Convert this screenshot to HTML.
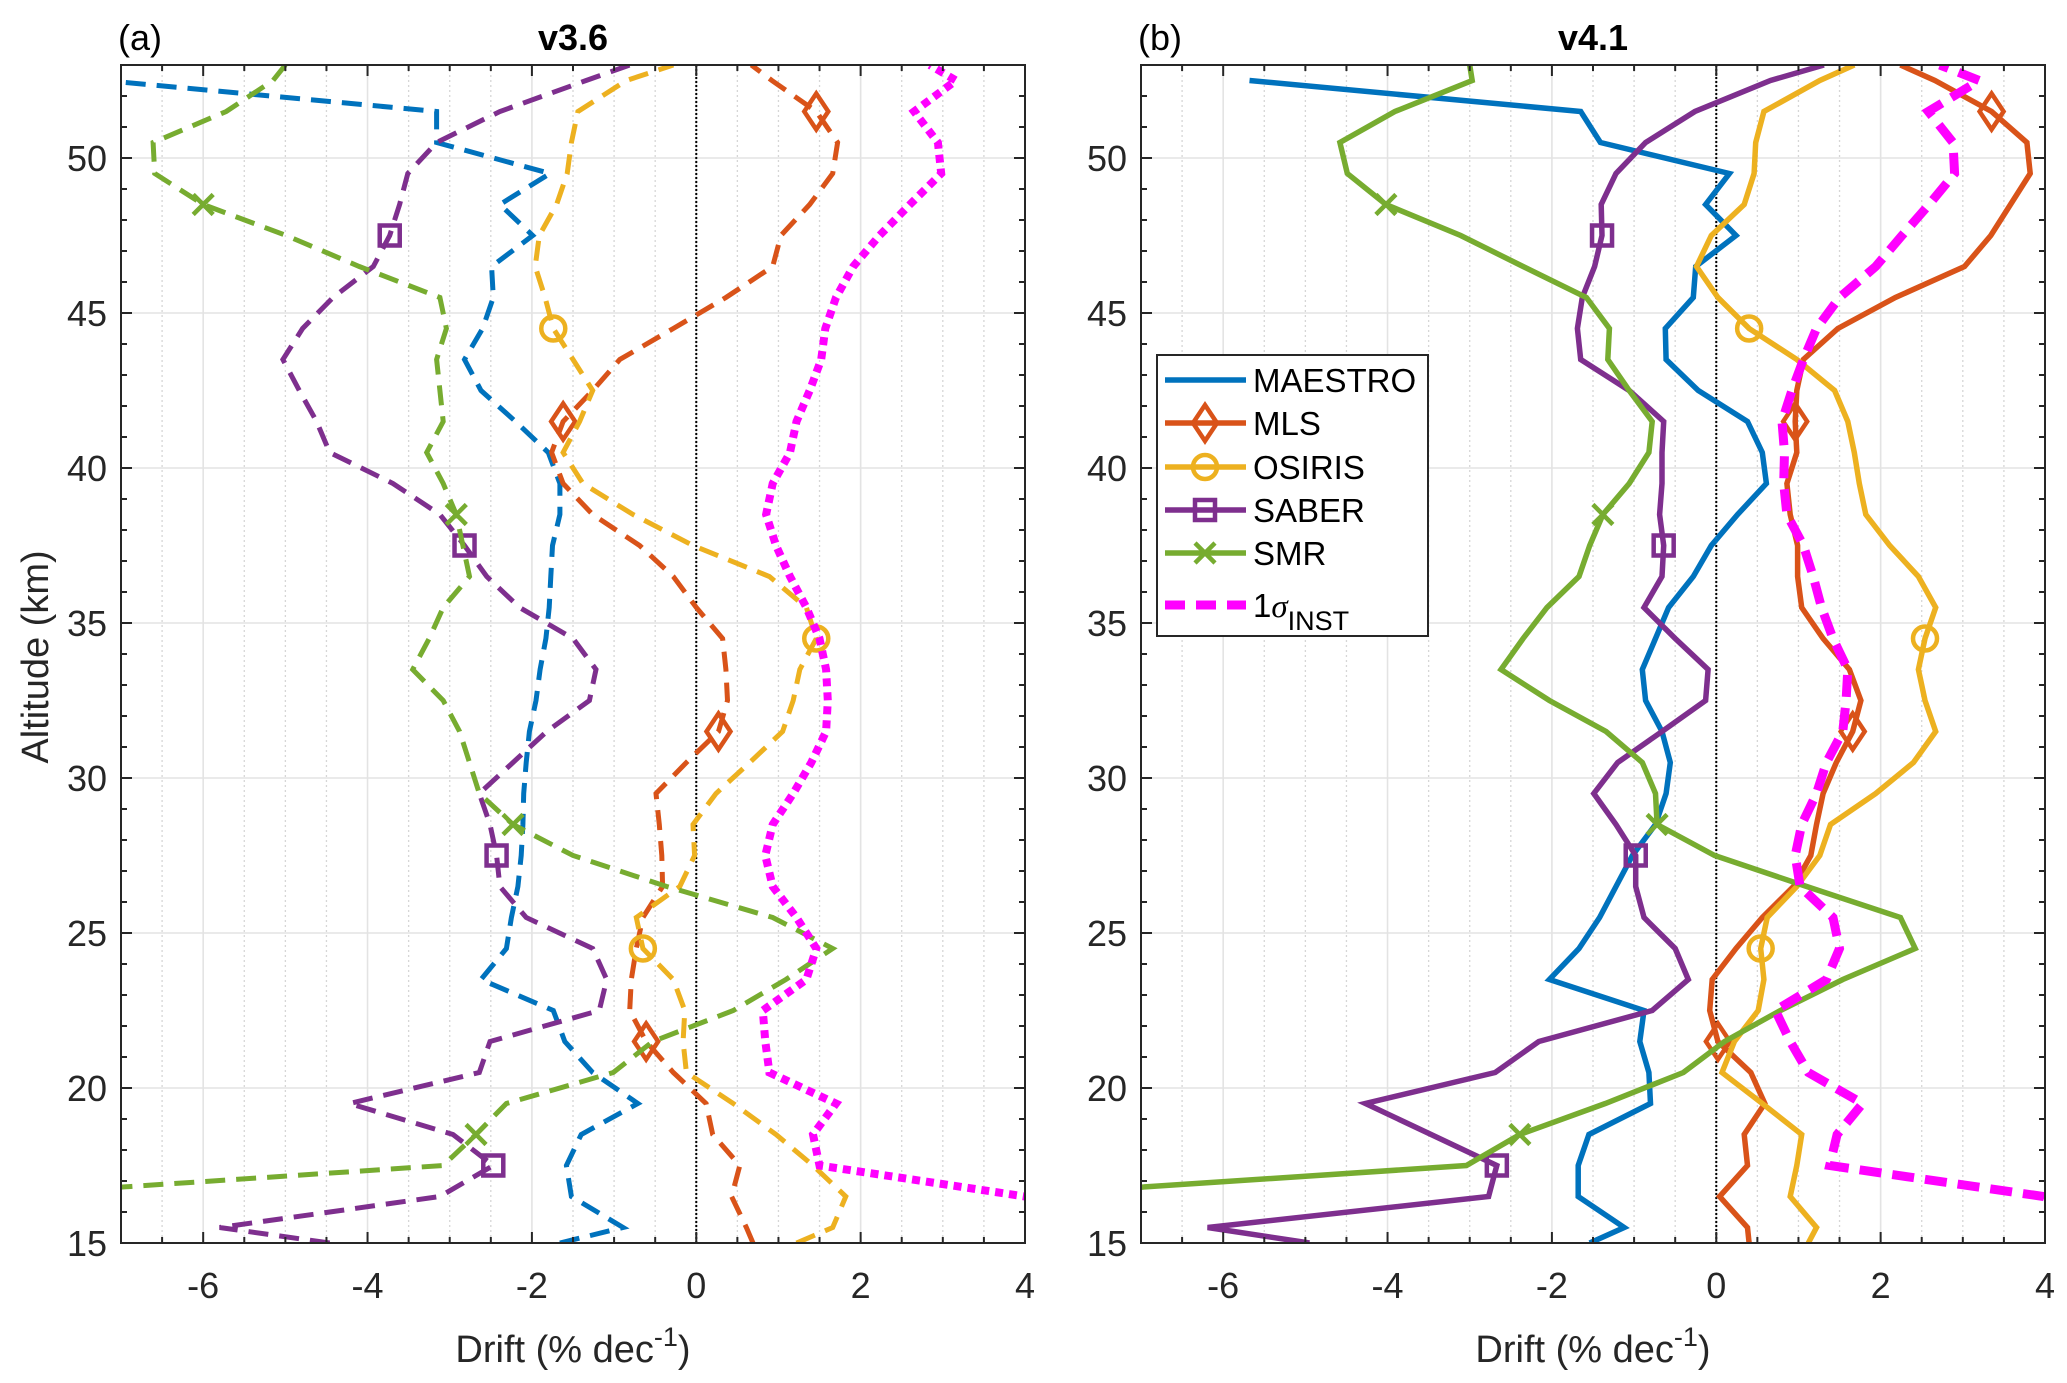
<!DOCTYPE html>
<html><head><meta charset="utf-8"><title>Drift profiles</title>
<style>
html,body{margin:0;padding:0;background:#fff;}
svg{display:block;font-family:"Liberation Sans",Arial,sans-serif;}
</style></head>
<body>
<svg id="fig" width="2067" height="1383" viewBox="0 0 2067 1383" xmlns="http://www.w3.org/2000/svg"></svg>
<script>
// Altitudes (km): 15, 15.5 ... 52.5, 53
const altitudes = [15,15.5,16.5,17.5,18.5,19.5,20.5,21.5,22.5,23.5,24.5,25.5,26.5,27.5,28.5,29.5,30.5,31.5,32.5,33.5,34.5,35.5,36.5,37.5,38.5,39.5,40.5,41.5,42.5,43.5,44.5,45.5,46.5,47.5,48.5,49.5,50.5,51.5,52.5,53];
const xTicks = [-6,-4,-2,0,2,4];
const xTickLabels = ["-6","-4","-2","0","2","4"];
const yTicks = [15,20,25,30,35,40,45,50];
const yTickLabels = ["15","20","25","30","35","40","45","50"];
const seriesNames = ["MAESTRO","MLS","OSIRIS","SABER","SMR","1σ INST"];

// Panel (a) v3.6
const maestroA = [-1.66,-0.89,-1.52,-1.58,-1.4,-0.71,-1.26,-1.6,-1.74,-2.62,-2.31,-2.25,-2.17,-2.13,-2.11,-2.1,-2.07,-2.03,-1.95,-1.9,-1.83,-1.79,-1.77,-1.75,-1.66,-1.66,-1.8,-2.2,-2.62,-2.82,-2.6,-2.47,-2.49,-1.99,-2.39,-1.78,-3.16,-3.16,-7.2,null];
const mlsA = [0.69,0.61,0.43,0.53,0.2,0.12,-0.28,-0.61,-0.81,-0.79,-0.73,-0.65,-0.41,-0.42,-0.45,-0.49,-0.12,0.27,0.38,0.36,0.32,0.0,-0.28,-0.69,-1.26,-1.62,-1.76,-1.62,-1.26,-0.93,-0.28,0.36,0.93,1.03,1.38,1.66,1.72,1.46,0.92,0.67];
const osirisA = [1.22,1.66,1.82,1.42,0.97,0.45,-0.12,-0.16,-0.14,-0.28,-0.65,-0.73,-0.2,-0.02,-0.04,0.24,0.65,1.05,1.18,1.26,1.46,1.34,0.89,-0.04,-0.77,-1.38,-1.62,-1.42,-1.26,-1.5,-1.74,-1.84,-1.96,-1.91,-1.7,-1.57,-1.52,-1.44,-0.85,-0.28];
const saberA = [-4.46,-5.8,-3.12,-2.47,-2.96,-4.22,-2.64,-2.51,-1.18,-1.09,-1.26,-2.07,-2.39,-2.43,-2.51,-2.64,-2.23,-1.82,-1.3,-1.22,-1.5,-2.15,-2.55,-2.82,-3.12,-3.69,-4.46,-4.62,-4.83,-5.03,-4.79,-4.42,-3.93,-3.73,-3.61,-3.51,-3.16,-2.39,-1.34,-0.81];
const smrA = [-10,-9.5,-8.7,-3.08,-2.68,-2.31,-1.01,-0.53,0.45,1.09,1.66,0.93,-0.36,-1.5,-2.23,-2.64,-2.76,-2.88,-3.08,-3.45,-3.25,-3.08,-2.76,-2.84,-2.92,-3.08,-3.28,-3.08,-3.12,-3.16,-3.04,-3.12,-4.1,-4.99,-6.0,-6.59,-6.61,-5.72,-5.15,-5.0];
const sigmaA = [5.5,5.0,4.0,1.5,1.42,1.7,0.89,0.84,0.81,1.34,1.46,1.22,0.93,0.84,0.93,1.18,1.4,1.58,1.6,1.58,1.5,1.34,1.14,0.97,0.85,0.93,1.14,1.22,1.38,1.52,1.57,1.7,1.91,2.23,2.6,2.98,2.94,2.65,3.16,2.84];

// Panel (b) v4.1
const maestroB = [-1.54,-1.12,-1.68,-1.68,-1.55,-0.8,-0.82,-0.93,-0.88,-2.03,-1.67,-1.42,-1.22,-1.02,-0.74,-0.61,-0.56,-0.66,-0.86,-0.9,-0.74,-0.58,-0.28,-0.06,0.26,0.61,0.56,0.38,-0.22,-0.61,-0.62,-0.28,-0.25,0.24,-0.13,0.16,-1.41,-1.65,-5.68,null];
const mlsB = [0.4,0.38,0.04,0.38,0.34,0.59,0.42,0.02,-0.08,-0.05,0.24,0.56,0.94,1.15,1.22,1.3,1.46,1.66,1.76,1.62,1.3,1.04,0.99,0.99,0.9,0.86,0.98,0.96,0.98,1.06,1.48,2.18,3.02,3.34,3.58,3.82,3.78,3.35,2.66,2.24];
const osirisB = [1.12,1.22,0.9,0.98,1.04,0.56,0.07,0.22,0.51,0.58,0.54,0.62,0.98,1.26,1.39,1.94,2.4,2.67,2.54,2.46,2.54,2.67,2.46,2.11,1.82,1.74,1.68,1.6,1.44,0.98,0.4,0.02,-0.24,-0.06,0.34,0.46,0.48,0.58,1.26,1.68];
const saberB = [-4.95,-6.19,-2.77,-2.67,-3.47,-4.27,-2.69,-2.16,-0.78,-0.34,-0.5,-0.88,-0.98,-0.98,-1.22,-1.49,-1.2,-0.66,-0.13,-0.1,-0.5,-0.88,-0.66,-0.64,-0.69,-0.66,-0.66,-0.64,-1.06,-1.65,-1.69,-1.63,-1.48,-1.39,-1.4,-1.22,-0.86,-0.26,0.66,1.31];
const smrB = [-10,-9.5,-8.7,-3.04,-2.39,-1.35,-0.4,0.1,0.78,1.54,2.42,2.24,1.1,-0.02,-0.72,-0.74,-0.9,-1.34,-2.03,-2.62,-2.35,-2.06,-1.67,-1.54,-1.38,-1.06,-0.82,-0.78,-1.06,-1.32,-1.3,-1.58,-2.35,-3.11,-4.02,-4.49,-4.58,-3.91,-2.97,-3.0];
const sigmaB = [5.5,5.0,3.98,1.38,1.47,1.78,1.12,0.9,0.72,1.34,1.5,1.42,1.02,0.96,1.04,1.22,1.34,1.54,1.58,1.6,1.42,1.28,1.18,1.06,0.86,0.82,0.83,0.8,0.92,1.06,1.22,1.5,1.94,2.26,2.59,2.9,2.88,2.58,3.2,2.72];

const mlsMarkAlt = [21.5,31.5,41.5,51.5];
const osirisMarkAlt = [24.5,34.5,44.5];
const saberMarkAlt = [17.5,27.5,37.5,47.5];
const smrMarkAlt = [18.5,28.5,38.5,48.5];

const NS = "http://www.w3.org/2000/svg";
const svg = document.getElementById('fig');
function mk(tag, attrs, parent){
  const e = document.createElementNS(NS, tag);
  for (const k in attrs) e.setAttribute(k, attrs[k]);
  (parent||svg).appendChild(e);
  return e;
}
const COL = {MAESTRO:'#0072BD', MLS:'#D95319', OSIRIS:'#EDB120', SABER:'#7E2F8E', SMR:'#77AC30', SIG:'#FF00FF'};
const XMIN=-7, XMAX=4, YMIN=15, YMAX=53;
const TOP=65, BOT=1243;

function marker(g, type, cx, cy, color){
  let m;
  if (type==='diamond'){
    m = mk('polygon',{points:`${cx},${cy-18} ${cx+12},${cy} ${cx},${cy+18} ${cx-12},${cy}`, fill:'none', stroke:color,'stroke-width':4.5}, g);
  } else if (type==='circle'){
    m = mk('circle',{cx:cx,cy:cy,r:12,fill:'none',stroke:color,'stroke-width':4.5}, g);
  } else if (type==='square'){
    m = mk('rect',{x:cx-10,y:cy-10,width:20,height:20,fill:'none',stroke:color,'stroke-width':4.5}, g);
  } else if (type==='x'){
    m = mk('path',{d:`M${cx-10},${cy-10}L${cx+10},${cy+10}M${cx+10},${cy-10}L${cx-10},${cy+10}`,stroke:color,'stroke-width':4.5,fill:'none'}, g);
  }
  return m;
}

function panel(id, L, R, label, title, data){
  const xs = v => L + (v - XMIN) / (XMAX - XMIN) * (R - L);
  const ys = v => BOT - (v - YMIN) / (YMAX - YMIN) * (BOT - TOP);
  const g = mk('g', {});
  
  
  for (let v = XMIN + 0.5; v < XMAX; v += 0.5) {
    if (Math.abs(v - Math.round(v/2)*2) < 1e-6) continue;
    const l = mk('line',{x1:xs(v),x2:xs(v),y1:TOP,y2:BOT,stroke:'#d6d6d6','stroke-width':1.3,'stroke-dasharray':'2 3'},g);
    
    
  }
  xTicks.forEach(v => {
    if (v===XMAX) return;
    const l = mk('line',{x1:xs(v),x2:xs(v),y1:TOP,y2:BOT,stroke:'#e3e3e3','stroke-width':1.6},g);
    
    
  });
  yTicks.forEach(v => {
    if (v===YMIN) return;
    const l = mk('line',{x1:L,x2:R,y1:ys(v),y2:ys(v),stroke:'#e3e3e3','stroke-width':1.6},g);
    
    
  });
  const z = mk('line',{x1:xs(0),x2:xs(0),y1:TOP,y2:BOT,stroke:'#000','stroke-width':2,'stroke-dasharray':'2 2'},g);
  
  

  const cp = mk('clipPath',{id:'clip'+id},g);
  mk('rect',{x:L,y:TOP,width:R-L,height:BOT-TOP},cp);
  const lines = mk('g',{'clip-path':`url(#clip${id})`},g);

  data.forEach(s => {
    let d=''; let pen=false;
    s.vals.forEach((v,i) => {
      if (v===null){pen=false;return;}
      d += (pen?'L':'M') + xs(v).toFixed(1) + ',' + ys(altitudes[i]).toFixed(1);
      pen=true;
    });
    const p = mk('path',{d:d,fill:'none',stroke:s.color,'stroke-width':s.w,'stroke-linejoin':'miter','stroke-dasharray':s.dash||'none'},lines);
    
    
    if (s.marks){
      s.marks.forEach(a => {
        const i = altitudes.indexOf(a);
        if (i<0 || s.vals[i]===null) return;
        const m = marker(lines, s.mtype, xs(s.vals[i]), ys(a), s.color);
        
        
      });
    }
  });

  const box = mk('rect',{x:L,y:TOP,width:R-L,height:BOT-TOP,fill:'none',stroke:'#262626','stroke-width':2},g);
  
  
  for (let v = XMIN; v <= XMAX; v += 0.5){
    const major = Math.abs(v - Math.round(v/2)*2) < 1e-6;
    const len = major ? 11 : 6;
    mk('line',{x1:xs(v),x2:xs(v),y1:BOT,y2:BOT-len,stroke:'#262626','stroke-width':2},g);
    mk('line',{x1:xs(v),x2:xs(v),y1:TOP,y2:TOP+len,stroke:'#262626','stroke-width':2},g);
  }
  for (let v = YMIN; v <= YMAX; v += 1){
    const len = (v%5===0) ? 11 : 6;
    mk('line',{x1:L,x2:L+len,y1:ys(v),y2:ys(v),stroke:'#262626','stroke-width':2},g);
    mk('line',{x1:R,x2:R-len,y1:ys(v),y2:ys(v),stroke:'#262626','stroke-width':2},g);
  }
  xTicks.forEach((v,i) => {
    const t = mk('text',{x:xs(v),y:1298,'text-anchor':'middle','font-size':36,fill:'#262626'},g);
    t.textContent = xTickLabels[i];
    
    
  });
  yTicks.forEach((v,i) => {
    const t = mk('text',{x:L-14,y:ys(v)+13,'text-anchor':'end','font-size':36,fill:'#262626'},g);
    t.textContent = yTickLabels[i];
    
    
  });
  const xt = mk('text',{x:(L+R)/2,y:1362,'text-anchor':'middle','font-size':38,fill:'#262626'},g);
  
  
  xt.appendChild(document.createTextNode('Drift (% dec'));
  const sup = mk('tspan',{dy:-16,'font-size':27},xt); sup.textContent='-1';
  const cl = mk('tspan',{dy:16},xt); cl.textContent=')';
  const tt = mk('text',{x:(L+R)/2,y:50,'text-anchor':'middle','font-size':36,'font-weight':'bold',fill:'#000'},g);
  tt.textContent = title;
  
  
  const pl = mk('text',{x:L-3,y:50,'font-size':36,fill:'#000'},g);
  pl.textContent = label;
  
  
}

const dashA = '20 11';
panel('a', 121, 1025, '(a)', 'v3.6', [
  {name:'maestro', vals:maestroA, color:COL.MAESTRO, w:5, dash:dashA},
  {name:'mls', vals:mlsA, color:COL.MLS, w:5, dash:dashA, marks:mlsMarkAlt, mtype:'diamond'},
  {name:'osiris', vals:osirisA, color:COL.OSIRIS, w:5, dash:dashA, marks:osirisMarkAlt, mtype:'circle'},
  {name:'saber', vals:saberA, color:COL.SABER, w:5, dash:dashA, marks:saberMarkAlt, mtype:'square'},
  {name:'smr', vals:smrA, color:COL.SMR, w:5, dash:dashA, marks:smrMarkAlt, mtype:'x'},
  {name:'sigma-inst', vals:sigmaA, color:COL.SIG, w:8, dash:'8 6'}
]);
panel('b', 1141, 2045, '(b)', 'v4.1', [
  {name:'maestro', vals:maestroB, color:COL.MAESTRO, w:5.5},
  {name:'mls', vals:mlsB, color:COL.MLS, w:5.5, marks:mlsMarkAlt, mtype:'diamond'},
  {name:'osiris', vals:osirisB, color:COL.OSIRIS, w:5.5, marks:osirisMarkAlt, mtype:'circle'},
  {name:'saber', vals:saberB, color:COL.SABER, w:5.5, marks:saberMarkAlt, mtype:'square'},
  {name:'smr', vals:smrB, color:COL.SMR, w:5.5, marks:smrMarkAlt, mtype:'x'},
  {name:'sigma-inst', vals:sigmaB, color:COL.SIG, w:9, dash:'22 11'}
]);

const yl = mk('text',{x:0,y:0,'text-anchor':'middle','font-size':38,fill:'#262626',transform:'translate(48,657) rotate(-90)'});
yl.textContent = 'Altitude (km)';



const lg = mk('g',{});


mk('rect',{x:1157,y:355,width:271,height:281,fill:'#fff',stroke:'#262626','stroke-width':2},lg);
const legendY = [380,423,467,510,553,605];
const legendStyle = [
  {c:COL.MAESTRO,m:null,w:5.5},{c:COL.MLS,m:'diamond',w:5.5},{c:COL.OSIRIS,m:'circle',w:5.5},
  {c:COL.SABER,m:'square',w:5.5},{c:COL.SMR,m:'x',w:5.5},{c:COL.SIG,m:null,w:9,dash:'20 11'}
];
seriesNames.forEach((nm,i) => {
  const e = mk('g',{},lg);
  
  
  const st = legendStyle[i];
  mk('line',{x1:1165,x2:1246,y1:legendY[i],y2:legendY[i],stroke:st.c,'stroke-width':st.w,'stroke-dasharray':st.dash||'none'},e);
  if (st.m) marker(e, st.m, 1205, legendY[i], st.c);
  const t = mk('text',{x:1253,y:legendY[i]+12,'font-size':33,fill:'#000'},e);
  if (i===5){
    t.appendChild(document.createTextNode('1'));
    const s = mk('tspan',{'font-style':'italic','font-family':'"Liberation Serif",serif'},t); s.textContent='σ';
    const sub = mk('tspan',{dy:13,'font-size':27},t); sub.textContent='INST';
  } else t.textContent = nm;
});
</script>
</body></html>
